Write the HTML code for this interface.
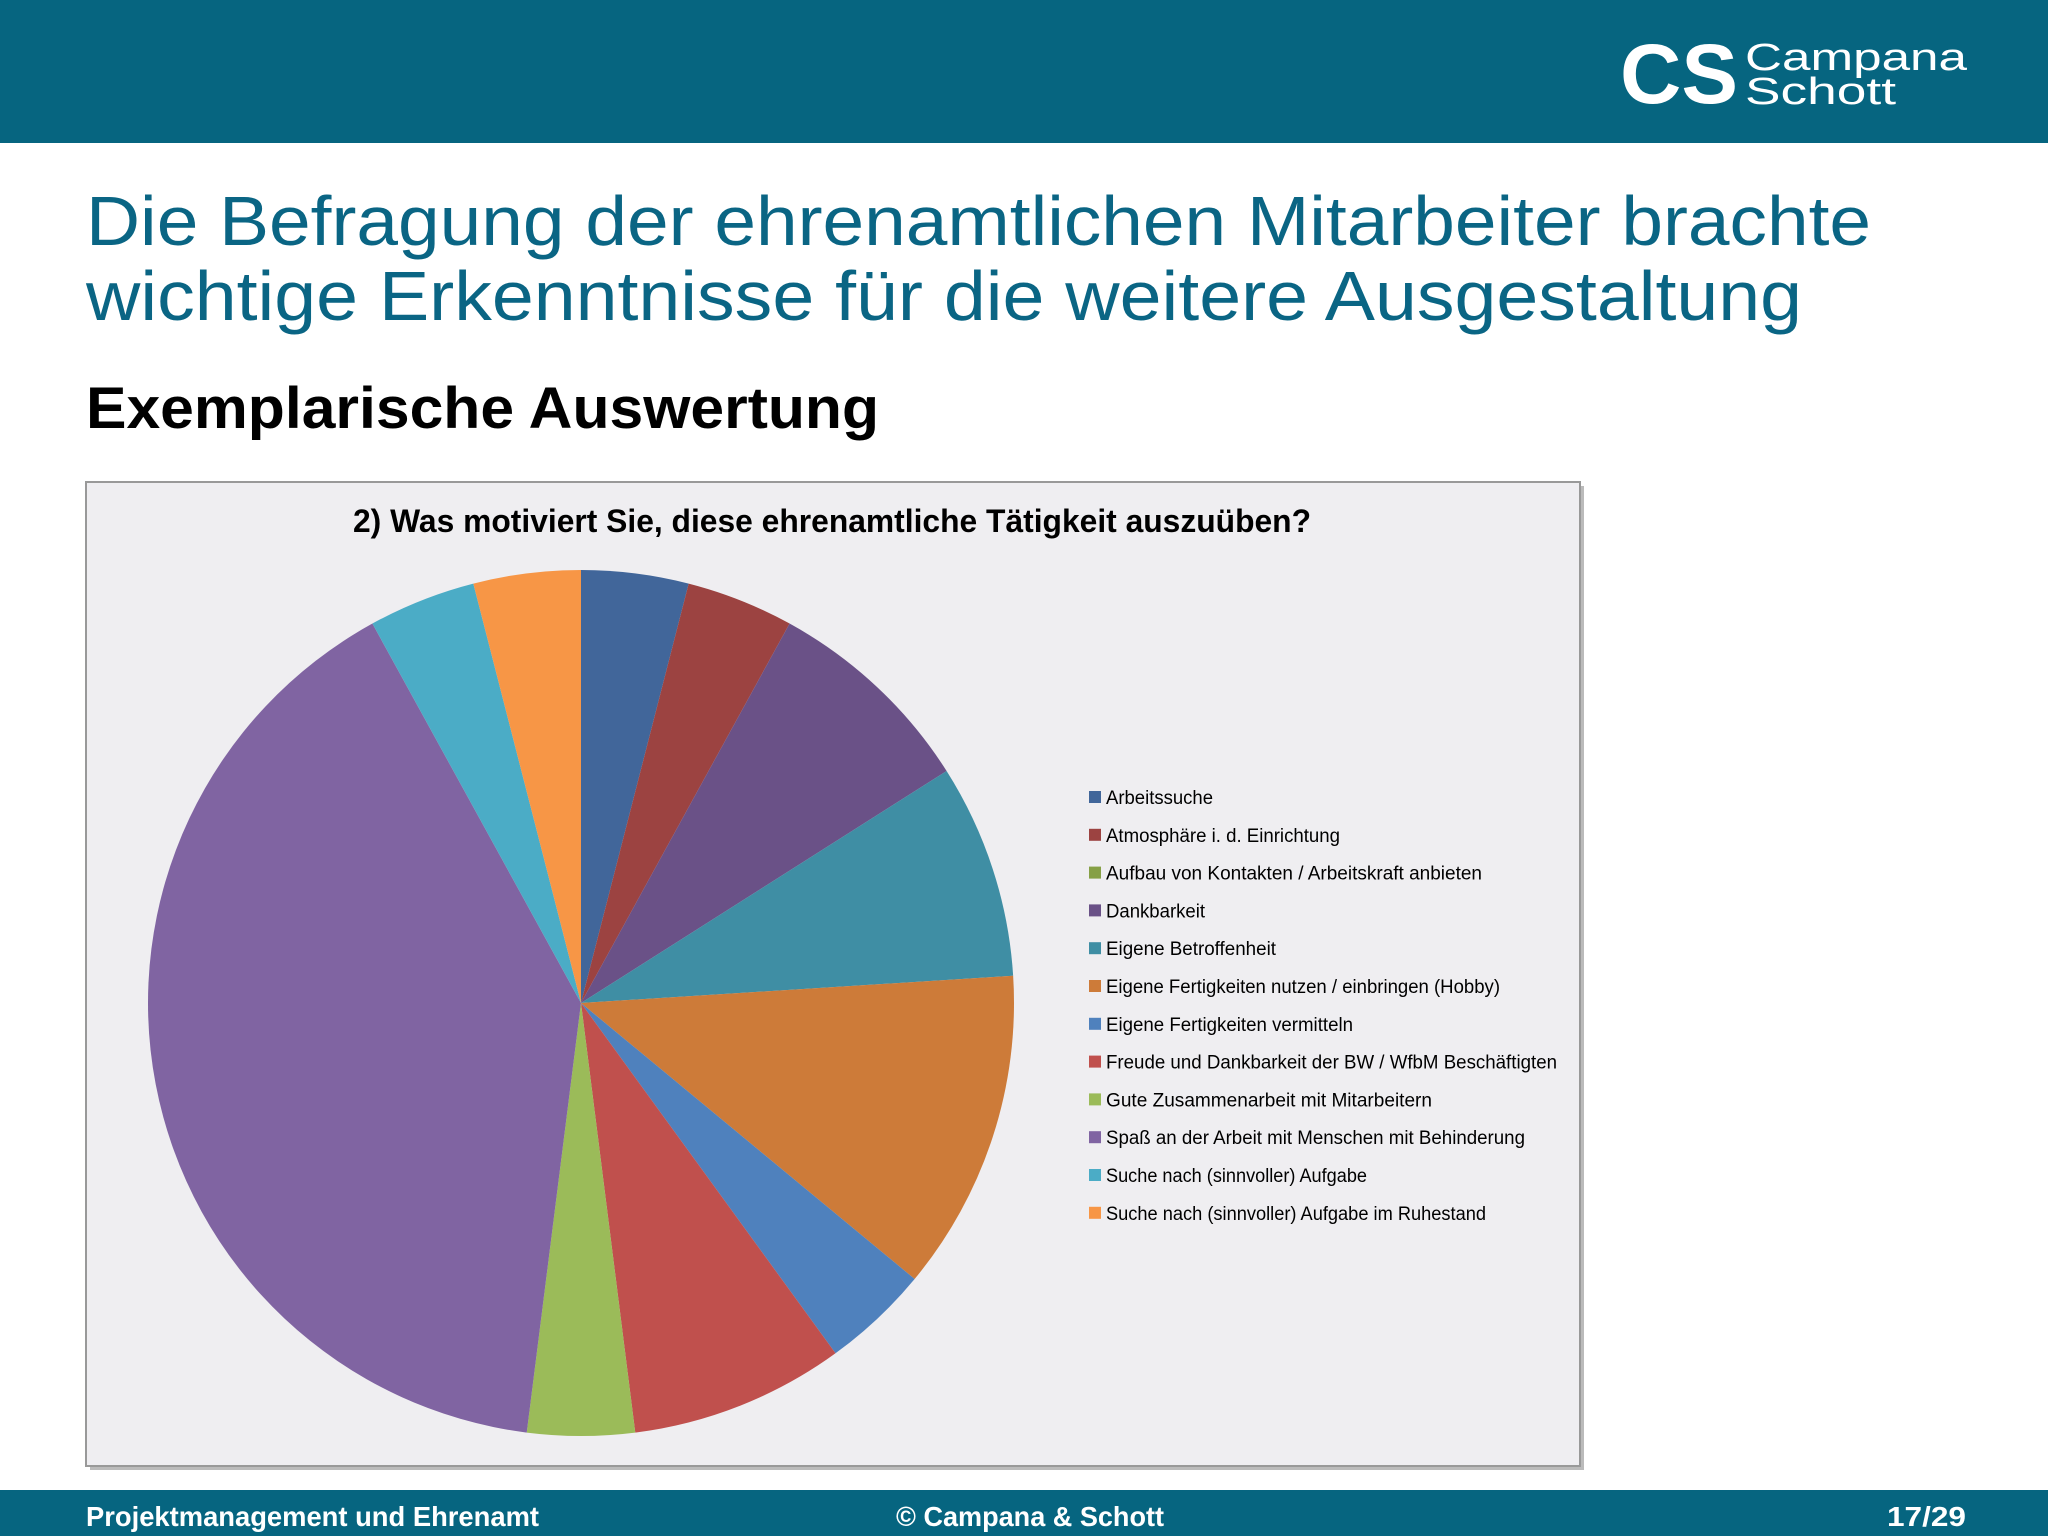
<!DOCTYPE html>
<html><head><meta charset="utf-8"><style>
html,body{margin:0;padding:0;background:#fff}
svg{display:block}
text{font-family:"Liberation Sans",sans-serif}
</style></head><body>
<svg id="s" width="2048" height="1536" viewBox="0 0 2048 1536" xmlns="http://www.w3.org/2000/svg">
<rect x="0" y="0" width="2048" height="143" fill="#066580"/>
<g>
<text x="1620" y="103" font-size="84" font-weight="bold" fill="#fff" textLength="118" lengthAdjust="spacingAndGlyphs">CS</text>
<text x="1745" y="70" font-size="38" fill="#fff" textLength="222" lengthAdjust="spacingAndGlyphs">Campana</text>
<text x="1745" y="104" font-size="38" fill="#fff" textLength="151" lengthAdjust="spacingAndGlyphs">Schott</text>
</g>
<text x="86" y="245" font-size="70" fill="#0a6584" textLength="1785" lengthAdjust="spacingAndGlyphs">Die Befragung der ehrenamtlichen Mitarbeiter brachte</text>
<text x="86" y="320" font-size="70" fill="#0a6584" textLength="1716" lengthAdjust="spacingAndGlyphs">wichtige Erkenntnisse für die weitere Ausgestaltung</text>
<text x="86" y="428" font-size="58" font-weight="bold" fill="#000" textLength="793" lengthAdjust="spacingAndGlyphs">Exemplarische Auswertung</text>
<rect x="90" y="486" width="1494" height="984" fill="#bbb"/>
<rect x="86" y="482" width="1494" height="984" fill="#efeef1" stroke="#999" stroke-width="2"/>
<text x="353" y="532" font-size="32" font-weight="bold" fill="#000" textLength="958" lengthAdjust="spacingAndGlyphs">2) Was motiviert Sie, diese ehrenamtliche Tätigkeit auszuüben?</text>
<g id="pie"></g>
<g id="legend"></g>
<rect x="0" y="1490" width="2048" height="46" fill="#066580"/>
<text x="86" y="1526" font-size="28" font-weight="bold" fill="#fff" textLength="453" lengthAdjust="spacingAndGlyphs">Projektmanagement und Ehrenamt</text>
<text x="896" y="1526" font-size="28" font-weight="bold" fill="#fff" textLength="268" lengthAdjust="spacingAndGlyphs">© Campana &amp; Schott</text>
<text x="1887" y="1526" font-size="28" font-weight="bold" fill="#fff" textLength="79" lengthAdjust="spacingAndGlyphs">17/29</text>
</svg>
<script>
const categories = ["Arbeitssuche","Atmosphäre i. d. Einrichtung","Aufbau von Kontakten / Arbeitskraft anbieten","Dankbarkeit","Eigene Betroffenheit","Eigene Fertigkeiten nutzen / einbringen (Hobby)","Eigene Fertigkeiten vermitteln","Freude und Dankbarkeit der BW / WfbM Beschäftigten","Gute Zusammenarbeit mit Mitarbeitern","Spaß an der Arbeit mit Menschen mit Behinderung","Suche nach (sinnvoller) Aufgabe","Suche nach (sinnvoller) Aufgabe im Ruhestand"];
const counts = [1,1,0,2,2,3,1,2,1,10,1,1];
const colors = ["#41669a","#9c4341","#86a046","#6a5187","#3f8ea4","#cd7b39","#4f81bd","#c0504d","#9bbb59","#8064a2","#4bacc6","#f79646"];
const NS="http://www.w3.org/2000/svg";
const cx=581, cy=1003, r=433;
const total=counts.reduce((a,b)=>a+b,0);
const pie=document.getElementById('pie');
let acc=0;
function pt(a){return [cx+r*Math.sin(a), cy-r*Math.cos(a)];}
counts.forEach((v,i)=>{
  if(v<=0) return;
  const a0=acc/total*2*Math.PI; acc+=v; const a1=acc/total*2*Math.PI;
  const p0=pt(a0), p1=pt(a1);
  const large=(a1-a0)>Math.PI?1:0;
  const p=document.createElementNS(NS,'path');
  p.setAttribute('d',`M${cx},${cy} L${p0[0]},${p0[1]} A${r},${r} 0 ${large} 1 ${p1[0]},${p1[1]} Z`);
  p.setAttribute('fill',colors[i]);
  
  
  pie.appendChild(p);
});
const lg=document.getElementById('legend');
const legendLengths=[107,234,376,99,170,394,247,451,326,419,261,380];
categories.forEach((c,i)=>{
  const y=798+i*37.8;
  const g=document.createElementNS(NS,'g');
  
  
  const s=document.createElementNS(NS,'rect');
  s.setAttribute('x',1089);s.setAttribute('y',y-7);s.setAttribute('width',12);s.setAttribute('height',12);
  s.setAttribute('fill',colors[i]);
  const t=document.createElementNS(NS,'text');
  t.setAttribute('x',1106);t.setAttribute('y',y+6);t.setAttribute('font-size','19');t.setAttribute('fill','#000');
  t.setAttribute('textLength',legendLengths[i]);t.setAttribute('lengthAdjust','spacingAndGlyphs');
  t.textContent=c;
  g.appendChild(s);g.appendChild(t);lg.appendChild(g);
});
</script>
</body></html>
